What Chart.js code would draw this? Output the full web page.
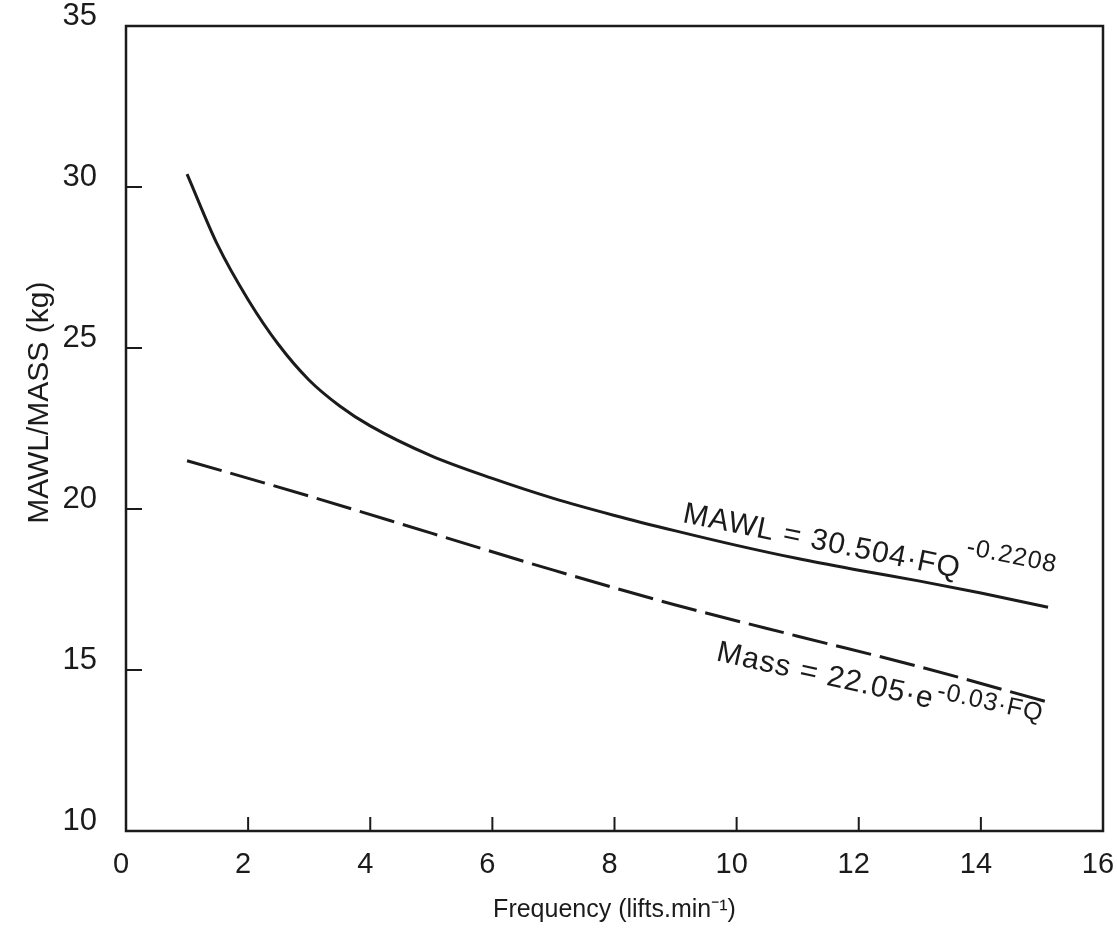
<!DOCTYPE html>
<html>
<head>
<meta charset="utf-8">
<title>MAWL / Mass vs frequency</title>
<script src="https://cdn.jsdelivr.net/npm/chart.js@4.4.1/dist/chart.umd.min.js"></script>
<style>
  html, body { margin: 0; padding: 0; background: #fff; }
  #wrap { width: 1117px; height: 932px; }
</style>
</head>
<body>
<div id="wrap"><canvas id="chart"></canvas></div>
<script>
// values
const mawlFreq = [1, 1.5, 2, 2.5, 3, 3.5, 4, 5, 6, 7, 8, 9, 10, 11, 12, 13, 14, 15.1];
const mawlKg   = [30.4, 28.2, 26.5, 25.1, 24.0, 23.2, 22.58, 21.65, 20.95, 20.33, 19.8, 19.32, 18.87, 18.46, 18.1, 17.76, 17.39, 16.95];
const massFreq = [1, 3, 5, 7, 9, 11, 13, 15.1];
const massKg   = [21.5, 20.4, 19.25, 18.1, 17.02, 16.05, 15.1, 14.0];

const xTicks = [0, 2, 4, 6, 8, 10, 12, 14, 16];
const yTicks = [10, 15, 20, 25, 30, 35];

const INK = '#1b1b1b';
const FAMILY = "'Liberation Sans', Arial, Helvetica, sans-serif";
const Y_TITLE = 'MAWL/MASS (kg)';

// equation labels written along the curves
const curveLabels = [
  { text: 'MAWL = 30.504\u00b7FQ', sup: '-0.2208', at: [9.1, 19.6], angle: 11.5, rise: 25 },
  { text: 'Mass = 22.05\u00b7e', sup: '-0.03\u00b7FQ', at: [9.65, 15.3], angle: 12.5, rise: 11 }
];

const toPoints = (xs, ys) => xs.map((x, i) => ({ x, y: ys[i] }));

// no extra room for labels hanging past the frame
const noOverflow = s => { s.paddingTop = 0; s.paddingBottom = 0; s.paddingLeft = 0; s.paddingRight = 0; };

// frame, inward tick marks, y title and equation text
const framePlugin = {
  id: 'frame',
  afterDatasetsDraw(chart) {
    const { ctx, chartArea: a, scales: { x, y } } = chart;
    ctx.save();
    ctx.strokeStyle = INK;
    ctx.lineWidth = 2;
    ctx.beginPath();
    xTicks.slice(1, -1).forEach(v => {
      const px = x.getPixelForValue(v);
      ctx.moveTo(px, a.bottom);
      ctx.lineTo(px, a.bottom - 14);
    });
    yTicks.slice(1, -1).forEach(v => {
      const py = y.getPixelForValue(v);
      ctx.moveTo(a.left, py);
      ctx.lineTo(a.left + 16, py);
    });
    ctx.stroke();

    ctx.lineWidth = 2.5;
    ctx.strokeRect(a.left, a.top, a.right - a.left, a.bottom - a.top);

    ctx.fillStyle = INK;

    // axis title sits a little above the middle of the frame
    ctx.save();
    ctx.translate(40, y.getPixelForValue(23.3));
    ctx.rotate(-Math.PI / 2);
    ctx.textAlign = 'center';
    ctx.textBaseline = 'middle';
    ctx.font = `30px ${FAMILY}`;
    ctx.fillText(Y_TITLE, 0, 0);
    ctx.restore();

    ctx.textBaseline = 'alphabetic';
    ctx.textAlign = 'left';
    curveLabels.forEach(l => {
      ctx.save();
      ctx.translate(x.getPixelForValue(l.at[0]), y.getPixelForValue(l.at[1]));
      ctx.rotate(l.angle * Math.PI / 180);
      ctx.letterSpacing = '1px';
      ctx.font = `30px ${FAMILY}`;
      ctx.fillText(l.text, 0, 0);
      const w = ctx.measureText(l.text).width;
      ctx.font = `25px ${FAMILY}`;
      ctx.fillText(l.sup, w + 2, -l.rise);
      ctx.restore();
    });
    ctx.restore();
  }
};

new Chart(document.getElementById('chart'), {
  type: 'line',
  data: {
    datasets: [
      {
        label: 'MAWL',
        data: toPoints(mawlFreq, mawlKg),
        borderColor: INK,
        borderWidth: 3,
        pointRadius: 0,
        cubicInterpolationMode: 'monotone',
        fill: false
      },
      {
        label: 'Mass',
        data: toPoints(massFreq, massKg),
        borderColor: INK,
        borderWidth: 3,
        borderDash: [36, 9],
        pointRadius: 0,
        cubicInterpolationMode: 'monotone',
        fill: false
      }
    ]
  },
  options: {
    responsive: true,
    maintainAspectRatio: false,
    animation: false,
    layout: { padding: { top: 26, right: 14, left: 0, bottom: 0 } },
    plugins: {
      legend: { display: false },
      tooltip: { enabled: false }
    },
    scales: {
      x: {
        type: 'linear',
        min: 0,
        max: 16,
        afterFit: s => { s.height = 101; noOverflow(s); },
        afterBuildTicks: s => { s.ticks = xTicks.map(v => ({ value: v })); },
        grid: { display: false, drawTicks: false },
        border: { display: false },
        ticks: {
          padding: 17,
          labelOffset: -5,
          color: INK,
          font: { family: FAMILY, size: 29 }
        },
        title: {
          display: true,
          text: 'Frequency (lifts.min\u207b\u00b9)',
          color: INK,
          font: { family: FAMILY, size: 25 },
          padding: { top: 0, bottom: 7 }
        }
      },
      y: {
        type: 'linear',
        min: 10,
        max: 35,
        afterFit: s => { s.width = 126; noOverflow(s); },
        afterBuildTicks: s => { s.ticks = yTicks.map(v => ({ value: v })); },
        grid: { display: false, drawTicks: false },
        border: { display: false },
        ticks: {
          padding: 29,
          labelOffset: -10,
          color: INK,
          font: { family: FAMILY, size: 31 }
        }
      }
    }
  },
  plugins: [framePlugin]
});
</script>
</body>
</html>
